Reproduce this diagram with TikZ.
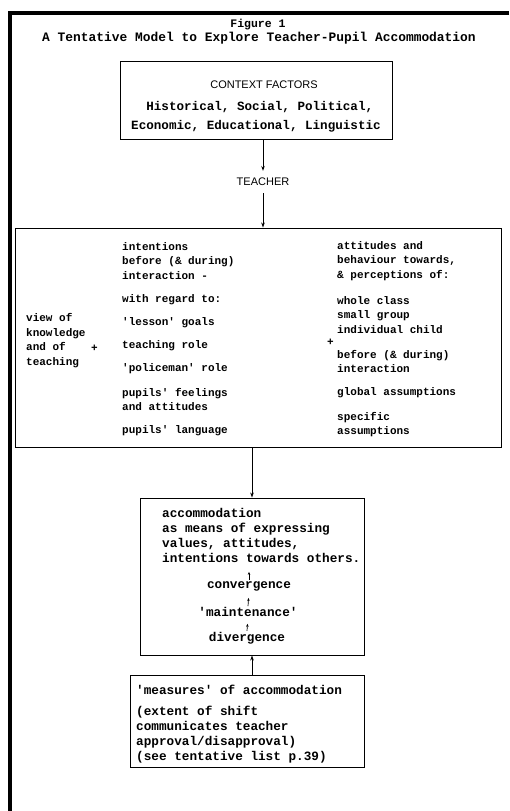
\documentclass[tikz,border=0pt]{standalone}
\usepackage{fontspec}
\setmonofont{Liberation Mono}
\setsansfont{Liberation Sans}
\usetikzlibrary{arrows.meta}

\newcommand\modelfont{\ttfamily\bfseries\fontsize{11}{14.5}\selectfont}
\newcommand\lowerfont{\ttfamily\bfseries\fontsize{12.7}{15}\selectfont}
\newcommand\headfont{\sffamily\fontsize{11}{13}\selectfont}

\begin{document}
\begin{tikzpicture}[x=1pt,y=-1pt,
    box/.style={draw,line width=0.9pt,inner sep=0pt},
    txt/.style={font=\modelfont,align=left,anchor=west,inner sep=0pt},
    lowtxt/.style={font=\lowerfont,align=left,anchor=west,inner sep=0pt},
    arr/.style={-{Stealth[length=5pt,width=3.5pt]},line width=0.8pt},
    tinyarr/.style={-{Stealth[length=3pt,width=2.5pt]},line width=0.7pt}]
    \useasboundingbox (0,0) rectangle (509,811);

    % The frame
    \draw[line width=4pt] (509,13) -- (10,13) -- (10,811);

    % Title
    \node[font=\ttfamily\bfseries\fontsize{11.5}{13}\selectfont] (fig) at (258,25) {Figure 1};
    \node[font=\ttfamily\bfseries\fontsize{12.9}{14}\selectfont,inner sep=0pt] (title) at (259,38)
        {A Tentative Model to Explore Teacher-Pupil Accommodation};

    % Context factors
    \node[box,minimum width=272,minimum height=78] (context) at (256,100) {};
    \node[font=\headfont,inner sep=0pt] (ctxhead) at (264,85) {CONTEXT FACTORS};
    \node[font=\ttfamily\bfseries\fontsize{12.6}{19}\selectfont,align=center,inner sep=0pt] (ctxlist) at (256,117)
        {\ Historical, Social, Political,\\Economic, Educational, Linguistic};

    % Teacher
    \node[font=\headfont,inner sep=7pt] (teacher) at (263,182) {TEACHER};

    % The big box
    \node[box,minimum width=486,minimum height=219] (teach) at (258,337.5) {};
    \node[txt] (view) at (26,340.5) {view of\\knowledge\\and of\\teaching};
    \node[txt] (plusa) at (91,348) {+};
    \node[txt] (intent) at (122,261) {intentions\\before (\& during)\\interaction -};
    \node[txt] (regard) at (122,300) {with regard to:};
    \node[txt] (lesson) at (122,323) {'lesson' goals};
    \node[txt] (role) at (122,346) {teaching role};
    \node[txt] (police) at (122,369) {'policeman' role};
    \node[txt] (feel) at (122,399.5) {pupils' feelings\\and attitudes};
    \node[txt] (lang) at (122,431) {pupils' language};
    \node[txt] (plusb) at (327,342) {+};
    \node[txt] (attit) at (337,261) {attitudes and\\behaviour towards,\\\& perceptions of:};
    \node[txt] (whole) at (337,315) {whole class\\small group\\individual child};
    \node[txt] (befr) at (337,361.5) {before (\& during)\\interaction};
    \node[txt] (global) at (337,393) {global assumptions};
    \node[txt] (specif) at (337,424.5) {specific\\assumptions};

    % Accommodation
    \node[box,minimum width=224,minimum height=157] (accom) at (252,576.5) {};
    \node[lowtxt] (means) at (162,535.5) {accommodation\\as means of expressing\\values, attitudes,\\intentions towards others.};
    \node[font=\lowerfont,inner sep=1pt] (conv) at (249,586) {convergence};
    \node[font=\lowerfont,inner sep=1pt] (maint) at (248,612) {'maintenance'};
    \node[font=\lowerfont,inner sep=1pt] (diverg) at (247,638) {divergence};

    % Measures
    \node[box,minimum width=234,minimum height=92] (measure) at (247,721) {};
    \node[lowtxt] (meashead) at (136,690) {'measures' of accommodation};
    \node[lowtxt] (shift) at (136,734.5) {(extent of shift\\communicates teacher\\approval/disapproval)\\(see tentative list p.39)};

    % The arrows
    \draw[arr] (context.south -| teacher) -- (teacher.north);
    \draw[arr] (teacher.south) -- (teach.north -| teacher);
    \draw[arr] (teach.south -| accom) -- (accom.north);
    \draw[arr] (accom.south |- measure.north) -- (accom.south);
    \draw[tinyarr,shorten >=9pt] (conv.north) -- (conv.north |- means.south);
    \draw[tinyarr,shorten >=6pt] (maint.north) -- (conv.south);
    \draw[tinyarr,shorten >=6pt] (diverg.north) -- (maint.south);
\end{tikzpicture}
\end{document}
